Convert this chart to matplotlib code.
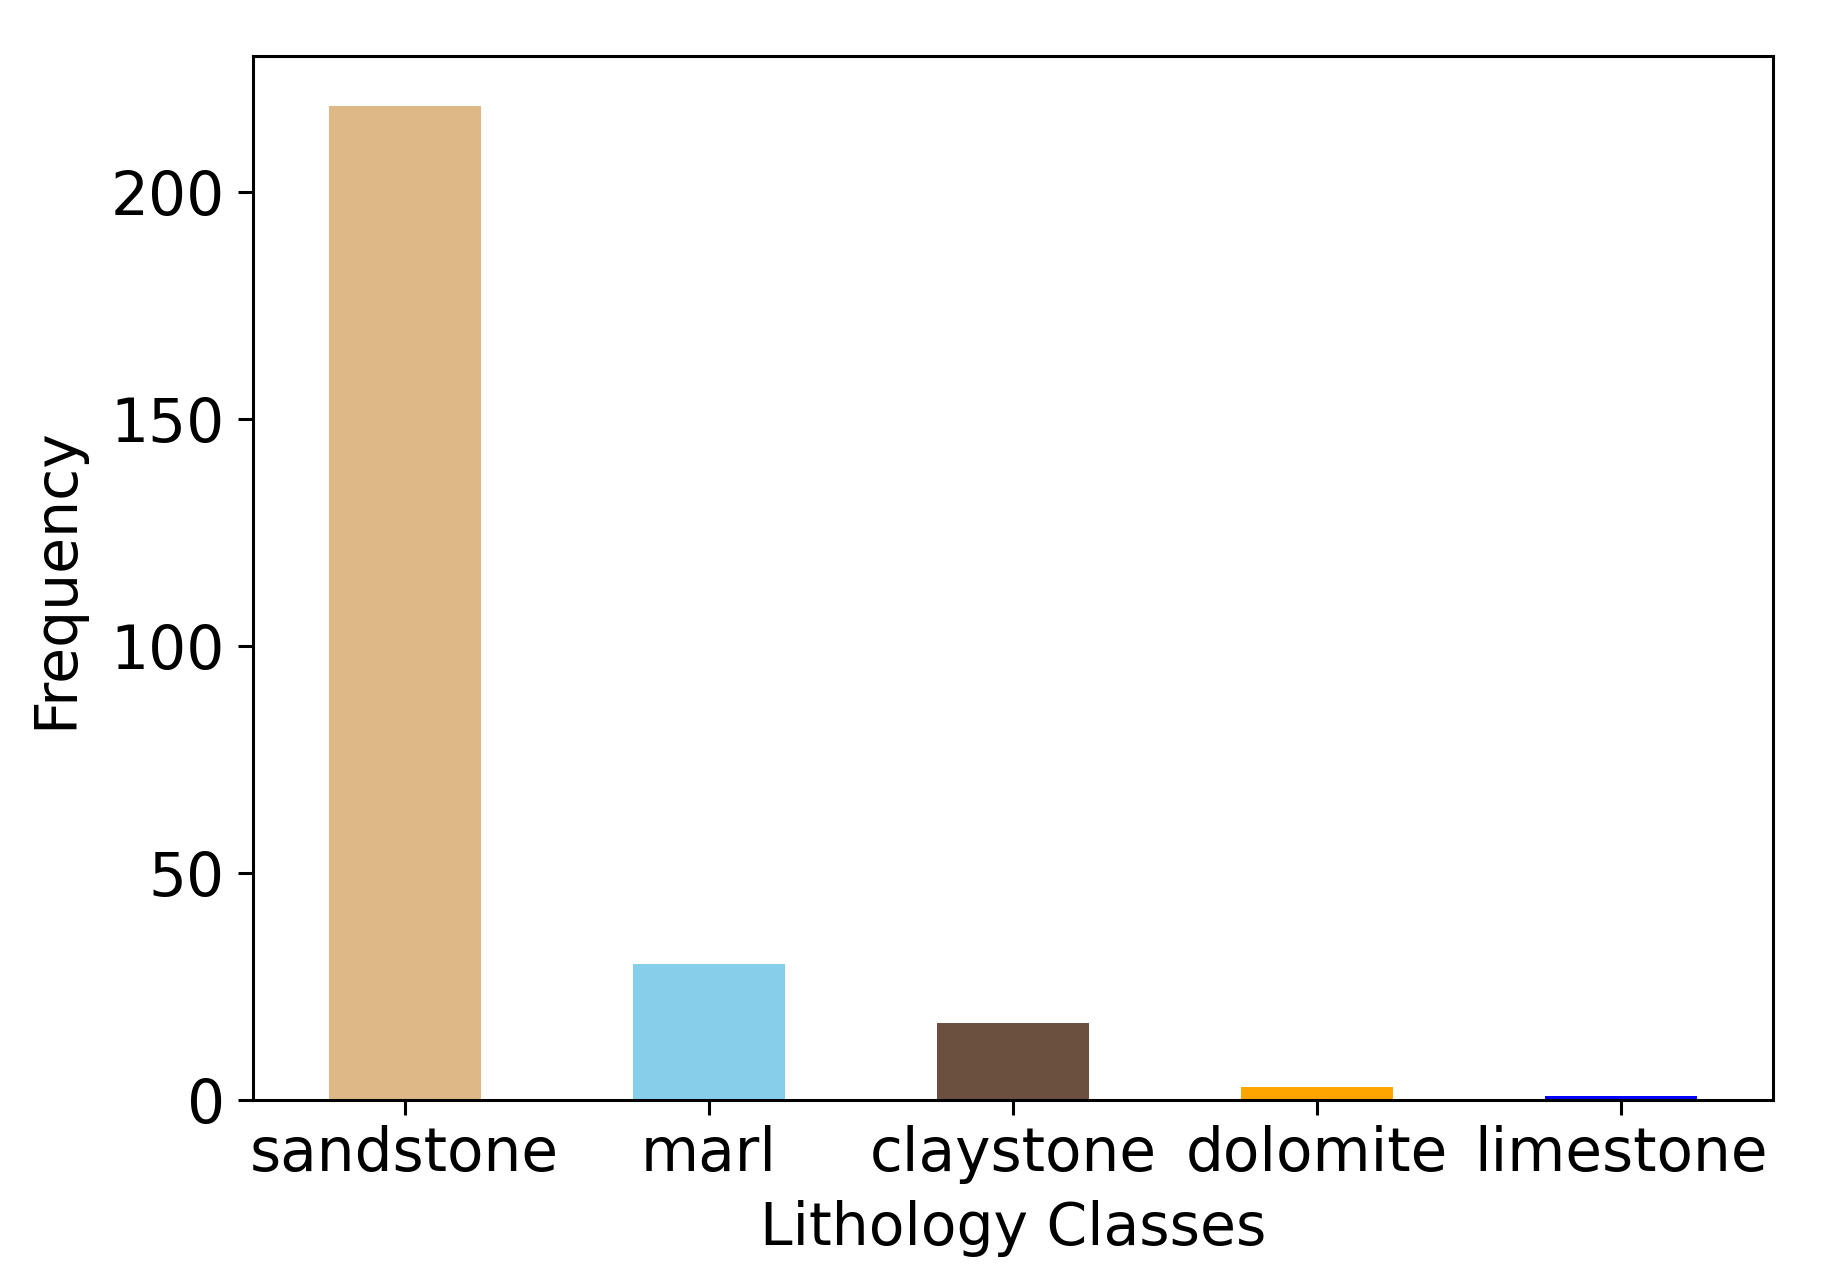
import numpy as np
import pandas as pd
import matplotlib
matplotlib.use("Agg")
import matplotlib.pyplot as plt

# lithology counts
classes = ["sandstone", "marl", "claystone", "dolomite", "limestone"]
counts = [219, 30, 17, 3, 1]
colors = ["#DEB887", "#87CEEB", "#6B5040", "#FFA500", "#0000FF"]

df = pd.Series(counts, index=classes)

fig = plt.figure(figsize=(1844 / 200, 1275 / 200), dpi=200)
ax = fig.add_axes([0.137, 0.137, 0.8245, 0.819])
df.plot.bar(ax=ax, color=colors, width=0.5)

ax.set_xlabel("Lithology Classes", fontsize=21, labelpad=5.5)
ax.set_ylabel("Frequency", fontsize=21, labelpad=9.5)
ax.tick_params(axis="both", labelsize=21.5, length=5.5, width=1.1)
ax.tick_params(axis="y", pad=4.5)
for s in ax.spines.values():
    s.set_linewidth(1.1)
plt.setp(ax.get_xticklabels(), rotation=0)

fig.savefig("out.png", dpi=200)
